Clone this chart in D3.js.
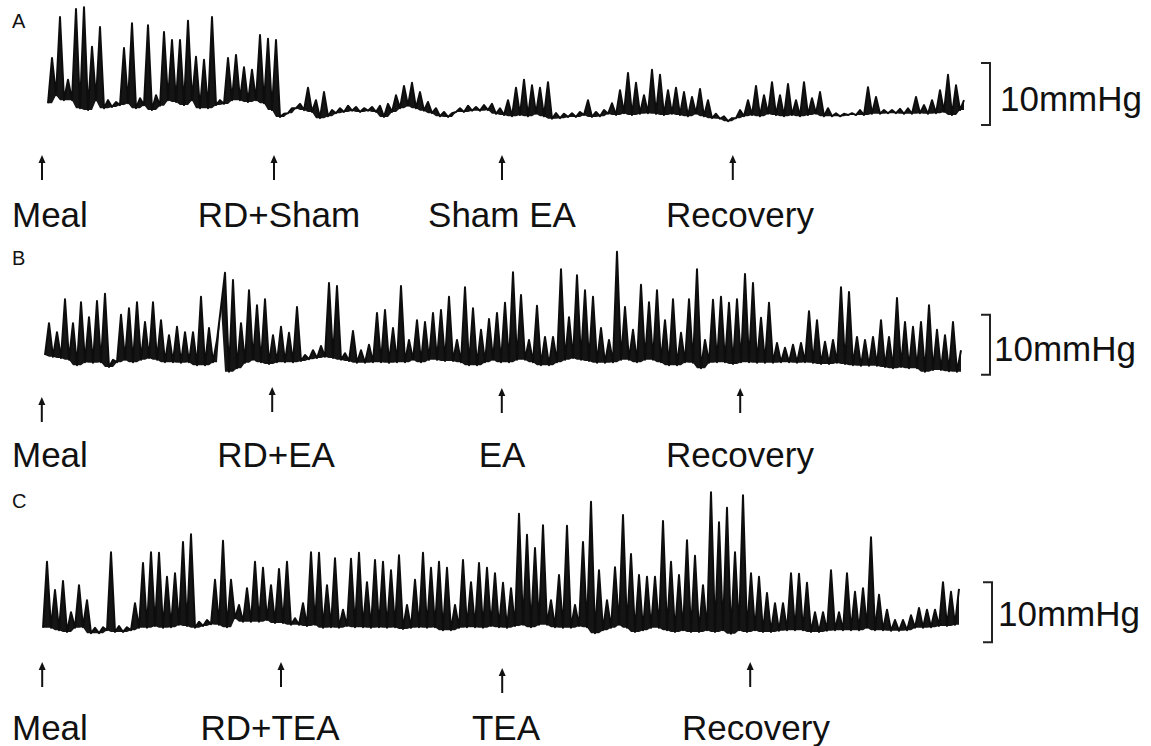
<!DOCTYPE html>
<html>
<head>
<meta charset="utf-8">
<script src="https://cdn.jsdelivr.net/npm/d3@7"></script>
<style>
  body { margin: 0; background: #fff; }
  svg { display: block; }
  text { font-family: "Liberation Sans", Arial, sans-serif; fill: #111; }
</style>
</head>
<body>
<div id="chart"></div>
<script>
// pressure traces, mmHg above baseline, min / max per sample bin
const loA = [2.7,4.0,3.2,3.2,1.9,1.6,3.2,1.9,2.1,2.4, 2.7,1.9,2.4,1.6,2.3,3.2,2.9,2.4,3.2,1.9,
  1.9,2.4,2.6,3.2,3.2,2.9,3.2,2.7,1.6,0.5, 1.1,1.9,1.6,1.3,0.3,0.6,1.1,1.3,1.5,1.3,
  1.5,1.3,0.5,1.3,1.9,2.3,1.9,1.5,1.1,0.6, 0.5,1.3,1.3,1.5,1.5,1.6,1.0,0.8,0.6,0.8,
  0.6,1.0,0.6,0.2,0.3,0.5,0.5,0.8,0.5,0.6, 1.0,0.8,1.1,0.8,1.0,1.1,1.0,0.8,1.0,0.8,
  0.6,1.0,0.6,0.3,0.2,-0.2,0.3,0.6,0.8,0.6, 1.0,0.8,0.6,0.8,0.6,0.8,1.0,0.6,0.6,0.6,
  0.8,0.8,0.8,1.0,1.0,1.1,1.1,1.0,1.0,1.1, 1.0,1.1,1.3,0.8,1.6];
const hiA = [10.0,16.6,6.5,17.9,18.2,11.8,15.0,3.2,2.9,11.6, 15.6,3.5,15.3,4.0,14.2,12.9,12.9,16.0,10.2,9.7,
  16.6,3.2,10.0,10.5,8.5,8.1,13.7,13.1,12.9,1.0, 1.9,2.6,5.2,3.2,4.5,1.6,1.9,2.3,2.1,1.9,
  2.1,2.3,2.6,4.0,5.5,6.0,4.5,2.9,1.9,1.3, 1.1,1.9,2.3,2.1,2.4,2.6,1.9,3.2,5.2,6.5,
  5.6,5.2,6.1,1.1,1.0,1.1,1.3,3.2,1.3,1.6, 2.7,4.8,7.6,6.0,4.0,8.1,7.3,4.8,5.2,4.5,
  3.7,5.0,3.2,1.0,0.6,0.3,1.6,3.2,5.5,4.0, 6.1,4.0,5.8,3.2,6.1,3.5,4.5,1.9,1.1,1.0,
  1.1,1.6,5.3,3.7,1.6,1.6,1.8,1.9,3.7,2.4, 3.2,4.8,7.3,5.6,3.2];

const loB = [2.5,2.2,2.0,1.7,0.8,1.3,1.2,1.3,0.5,1.3, 1.7,1.3,1.7,2.0,1.7,1.3,1.3,1.2,1.3,0.8,
  0.8,1.3,10.5,-0.3,0.3,1.2,1.7,1.3,1.0,1.3, 1.3,1.3,1.5,1.8,2.0,2.2,2.0,1.7,1.5,1.2,
  1.2,1.3,1.3,1.2,1.3,1.3,1.7,1.3,1.7,1.7, 1.5,1.5,1.3,0.8,0.8,1.3,1.7,1.3,1.3,1.7,
  1.7,1.3,0.8,0.8,1.3,1.7,2.0,1.7,1.5,1.2, 1.2,1.3,1.7,1.7,1.3,1.7,1.7,1.3,0.8,0.8,
  1.3,1.2,0.3,1.2,1.3,1.3,1.0,1.3,1.3,1.2, 1.2,1.2,1.3,1.3,1.2,1.3,1.2,1.0,1.0,1.2,
  1.0,0.8,0.7,0.7,0.7,0.5,0.3,0.5,0.3,0.3, -0.3,0.0,0.0,-0.2,-0.3];
const hiB = [7.8,6.3,11.8,7.8,11.3,8.8,11.5,12.7,1.7,9.2, 10.3,11.3,8.0,11.3,8.3,5.8,7.2,6.3,6.3,12.2,
  7.0,5.0,16.2,15.0,7.8,13.3,10.8,11.8,5.8,7.2, 6.2,10.5,2.5,3.3,4.0,14.5,14.0,2.8,6.5,3.3,
  4.2,9.5,10.0,7.0,14.0,5.0,8.3,8.0,9.5,10.0, 12.2,5.0,13.8,10.3,6.7,8.5,9.5,11.2,16.3,12.5,
  5.0,10.7,5.5,5.5,16.8,8.8,15.8,13.3,12.2,7.0, 5.0,19.7,10.5,6.7,14.2,11.3,13.3,8.3,11.8,6.2,
  11.8,16.8,5.0,11.7,12.2,11.2,11.8,16.0,14.5,8.7, 11.2,4.5,3.7,4.2,4.5,9.8,8.3,4.7,5.0,13.8,
  13.0,5.5,5.0,5.5,8.3,5.5,12.0,8.0,7.2,8.0, 10.8,6.7,5.8,8.0,3.3];

const loC = [0.7,0.7,0.3,0,0.7,0.8,-0.2,-0.2,0.3,0, 0,0.3,0.7,0.7,1.0,0.7,0.8,1.2,1.0,0.7,
  1.0,1.3,1.2,0.8,2.3,1.7,1.7,1.7,2.0,1.5, 1.5,1.2,1.2,1.0,1.2,0.7,0.8,0.7,1.0,0.8,
  0.8,0.7,0.8,0.7,0.8,0.5,0.7,0.8,0.7,0.8, 0.3,0.3,0.7,0.8,0.8,0.7,1.0,0.8,0.7,1.0,
  1.2,0.8,1.2,1.2,0.8,0.7,0.7,1.0,0.8,-0.2, 0.3,0.7,1.2,0.7,0,0.3,0.7,0.7,0.3,0,
  0.3,0,0,0.3,0,0.3,-0.3,0.3,0,0.3, 0,0,0.2,0.3,0.3,0.3,0,0,0.2,0.3,
  0.3,0.3,0.3,0.7,0.3,0.3,0.2,0.2,0.3,0.7, 0.7,0.8,1.0,1.0,1.2];
const hiC = [11.7,7.0,8.5,3.3,7.8,5.3,0.7,0.8,13.3,1.0, 0.8,4.8,11.5,13.3,13.2,9.2,9.8,15.0,16.3,1.7,
  2.0,8.7,15.2,8.7,4.5,7.3,11.7,10.7,7.8,10.5, 11.7,2.3,4.8,13.3,13.2,7.8,12.3,3.7,12.2,13.2,
  8.3,12.0,11.7,10.3,12.8,4.5,8.7,13.2,10.7,11.7, 10.7,4.5,12.0,8.3,11.5,10.7,9.8,8.2,7.3,19.7,
  16.2,14.0,17.8,5.3,9.5,17.7,4.5,15.0,21.7,10.3, 5.3,10.8,19.5,13.0,9.5,9.2,9.2,18.5,11.7,9.5,
  15.3,12.7,7.8,23.3,18.3,20.7,13.3,22.8,9.8,9.2, 6.5,4.8,4.8,9.8,9.7,8.2,3.3,3.3,10.3,3.3,
  9.8,6.7,7.3,15.8,6.2,3.7,2.0,2.0,2.8,4.0, 3.7,3.7,8.3,6.7,7.2];

// event marks, in sample bins
const eventsA = [-0.75, 28.25, 56.75, 85.6];
const eventsB = [-0.4, 28.4, 57.1, 86.9];
const eventsC = [-0.1, 29.75, 57.4, 88.4];
const namesA = ["Meal", "RD+Sham", "Sham EA", "Recovery"];
const namesB = ["Meal", "RD+EA", "EA", "Recovery"];
const namesC = ["Meal", "RD+TEA", "TEA", "Recovery"];
const scaleBar = 10; // mmHg

const width = 1151, height = 746, binW = 8;

const panels = [
  {tag: "A", lo: loA, hi: hiA, ev: eventsA, names: namesA,
   x0: 48, base: 120, ppu: 6.2, barLo: -0.8, barX: 990, unitX: 1000, unitY: 111,
   tagY: 28, arrowTop: [155, 155, 155, 155], labelY: 227, labelX: [null, 279, 502, 740]},
  {tag: "B", lo: loB, hi: hiB, ev: eventsB, names: namesB,
   x0: 45, base: 370, ppu: 6.0, barLo: -0.8, barX: 990, unitX: 994, unitY: 361,
   tagY: 265, arrowTop: [397, 387, 388, 388], labelY: 467, labelX: [null, 276, 502, 740]},
  {tag: "C", lo: loC, hi: hiC, ev: eventsC, names: namesC,
   x0: 43, base: 632, ppu: 6.0, barLo: -1.7, barX: 992, unitX: 998, unitY: 626,
   tagY: 508, arrowTop: [662, 662, 668, 662], labelY: 740, labelX: [null, 270, 506, 756]}
];

const svg = d3.select("#chart").append("svg")
  .attr("width", width)
  .attr("height", height);

panels.forEach(p => {
  const n = p.lo.length;
  const x = d3.scaleLinear().domain([0, n - 1]).range([p.x0, p.x0 + binW * (n - 1)]);
  const y = d3.scaleLinear().domain([0, 10]).range([p.base, p.base - 10 * p.ppu]);

  const g = svg.append("g");

  g.append("text")
    .attr("x", 12).attr("y", p.tagY)
    .attr("font-size", 20)
    .text(p.tag);

  // zigzag low -> high -> low; the area under each swing is filled dark
  const pts = p.lo.flatMap((v, i) => [
    {t: i, v: v, floor: v},
    {t: i + 0.5, v: p.hi[i], floor: Math.min(v, p.lo[i + 1] ?? v)}
  ]);
  const area = d3.area()
    .x(d => x(d.t))
    .y0(d => y(d.floor))
    .y1(d => y(d.v));
  g.append("path")
    .attr("d", area(pts))
    .attr("fill", "#151515");

  const line = d3.line().x(d => x(d.t)).y(d => y(d.v));
  g.append("path")
    .attr("d", line(pts))
    .attr("fill", "none")
    .attr("stroke", "#0d0d0d")
    .attr("stroke-width", 2)
    .attr("stroke-linejoin", "round");

  // scale bracket
  const yb0 = y(p.barLo), yb1 = y(p.barLo + scaleBar);
  g.append("path")
    .attr("d", `M${p.barX - 9},${yb1}H${p.barX}V${yb0}H${p.barX - 9}`)
    .attr("fill", "none")
    .attr("stroke", "#222")
    .attr("stroke-width", 2);
  g.append("text")
    .attr("x", p.unitX).attr("y", p.unitY)
    .attr("font-size", 35)
    .text(scaleBar + "mmHg");

  // event arrows and names
  p.ev.forEach((e, i) => {
    const ax = x(e), top = p.arrowTop[i];
    g.append("line")
      .attr("x1", ax).attr("x2", ax)
      .attr("y1", top + 6).attr("y2", top + 25)
      .attr("stroke", "#111").attr("stroke-width", 2);
    g.append("path")
      .attr("d", `M${ax - 3.5},${top + 8}L${ax},${top}L${ax + 3.5},${top + 8}Z`)
      .attr("fill", "#111");
    const t = g.append("text")
      .attr("y", p.labelY)
      .attr("font-size", 35)
      .text(p.names[i]);
    if (p.labelX[i] == null) t.attr("x", 12);
    else t.attr("x", p.labelX[i]).attr("text-anchor", "middle");
  });
});
</script>
</body>
</html>
